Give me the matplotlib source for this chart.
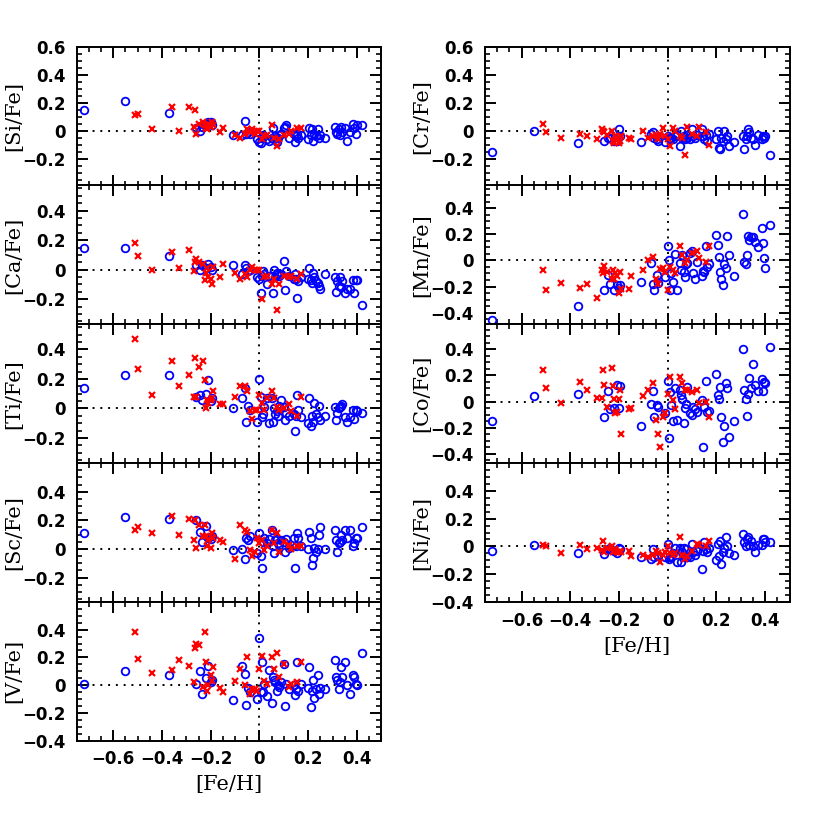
import numpy as np
import matplotlib
matplotlib.use('Agg')
import matplotlib.pyplot as plt
from matplotlib.ticker import MultipleLocator, FuncFormatter

# [Fe/H] of the two samples (same stars in every panel)
feh_blue = [-0.72, -0.55, -0.37,
            -0.26, -0.245, -0.235, -0.22, -0.21, -0.20, -0.195,
            -0.11, -0.07, -0.06, -0.055, -0.045, -0.04, -0.01, 0.0,
            0.005, 0.01, 0.015, 0.02, 0.03, 0.04, 0.05, 0.055, 0.06, 0.065, 0.07, 0.075,
            0.08, 0.09, 0.10, 0.105, 0.11, 0.12, 0.14, 0.145, 0.15, 0.155, 0.16, 0.17,
            0.20, 0.205, 0.21, 0.215, 0.22, 0.225, 0.23, 0.24, 0.245, 0.25, 0.27,
            0.31, 0.315, 0.32, 0.325, 0.33, 0.335, 0.34, 0.35, 0.36, 0.37, 0.385, 0.39, 0.395, 0.40, 0.42]
feh_red = [-0.51, -0.50, -0.44, -0.36, -0.33, -0.29, -0.27, -0.265, -0.26, -0.25,
           -0.23, -0.225, -0.22, -0.215, -0.21, -0.20, -0.195, -0.19, -0.16, -0.15,
           -0.10, -0.08, -0.06, -0.05, -0.04, -0.03, -0.02, -0.01, 0.0, 0.01,
           0.02, 0.03, 0.05, 0.06, 0.07, 0.08, 0.10, 0.12, 0.13, 0.155, 0.17]

si_blue = [0.15, 0.21, 0.13,
           0.02, 0.00, 0.03, 0.05, 0.06, 0.06, 0.04,
           -0.03, -0.03, 0.07, -0.02, -0.01, -0.02, -0.06, -0.08,
           -0.09, -0.05, -0.03, -0.04, -0.06, -0.07, -0.05, 0.02, -0.06, -0.04, -0.08, -0.05,
           -0.03, -0.02, 0.02, 0.03, 0.04, -0.05, -0.02, -0.08, -0.04, -0.02, -0.05, -0.03,
           -0.06, 0.02, -0.03, 0.01, -0.07, -0.02, -0.04, 0.01, -0.05, -0.03, -0.05,
           0.03, -0.01, -0.02, 0.01, -0.03, 0.03, -0.01, 0.02, -0.07, -0.01, 0.05, 0.02, -0.02, 0.04, 0.04]
ca_blue = [0.15, 0.15, 0.09,
           0.03, 0.00, 0.03, 0.01, 0.04, 0.02, 0.00,
           0.03, -0.03, 0.03, 0.01, -0.01, 0.00, -0.05, -0.06,
           -0.16, -0.04, -0.01, -0.03, -0.10, -0.04, -0.04, -0.16, 0.00, -0.05, -0.02, -0.03,
           -0.04, -0.03, 0.06, -0.14, -0.01, -0.04, -0.06, -0.03, -0.06, -0.19, -0.08, -0.05,
           -0.06, 0.01, -0.07, -0.09, -0.02, -0.05, -0.08, -0.09, -0.11, -0.13, -0.03,
           -0.05, -0.15, -0.08, -0.11, -0.05, -0.12, -0.08, -0.16, -0.13, -0.13, -0.07, -0.16, -0.07, -0.07, -0.24]
ti_blue = [0.14, 0.23, 0.23,
           0.08, 0.09, 0.06, 0.10, 0.19, 0.05, 0.07,
           0.00, 0.07, 0.14, -0.09, 0.02, -0.01, -0.09, 0.20,
           0.08, -0.06, -0.04, 0.01, 0.07, -0.10, 0.07, -0.09, 0.00, -0.04, -0.02, -0.05,
           0.02, 0.06, 0.01, -0.08, -0.03, -0.05, -0.04, -0.15, -0.05, 0.09, -0.01, -0.06,
           -0.10, 0.07, -0.12, -0.05, -0.09, 0.04, -0.04, -0.06, 0.02, -0.08, -0.05,
           0.01, -0.08, -0.03, 0.00, 0.01, 0.02, 0.03, -0.06, -0.09, -0.06, -0.01, -0.07, -0.01, -0.02, -0.03]
sc_blue = [0.11, 0.22, 0.21,
           0.20, 0.12, 0.05, 0.16, 0.08, 0.07, 0.09,
           -0.01, 0.00, -0.07, 0.08, 0.06, 0.09, -0.03, 0.11,
           -0.05, -0.13, 0.05, 0.08, 0.04, 0.07, 0.13, 0.02, -0.03, 0.06, 0.07, 0.04,
           0.03, 0.06, 0.05, -0.02, 0.07, 0.01, 0.08, -0.13, 0.02, 0.11, 0.08, 0.02,
           0.00, 0.12, 0.08, -0.11, -0.06, 0.01, -0.02, 0.00, 0.10, 0.15, 0.00,
           0.13, 0.06, -0.02, 0.04, 0.05, 0.10, 0.06, 0.13, 0.08, 0.13, 0.02, 0.04, 0.08, 0.08, 0.15]
v_blue = [0.01, 0.10, 0.07,
          0.01, 0.10, -0.06, 0.05, 0.14, 0.02, 0.04,
          -0.11, 0.14, 0.08, -0.14, -0.02, -0.05, -0.10, 0.34,
          -0.05, 0.17, -0.05, 0.01, -0.08, 0.11, -0.13, 0.06, 0.04, 0.02, -0.04, 0.00,
          -0.01, 0.02, 0.15, -0.15, 0.01, -0.03, 0.00, -0.07, -0.03, 0.17, -0.04, 0.01,
          -0.02, 0.13, -0.16, -0.04, 0.04, -0.09, -0.03, 0.07, -0.06, -0.02, -0.03,
          0.18, 0.06, 0.04, -0.03, 0.02, 0.13, 0.06, 0.17, 0.00, -0.06, 0.07, 0.06, 0.01, 0.00, 0.23]
cr_blue = [-0.15, 0.00, -0.09,
           -0.07, -0.05, -0.05, -0.07, -0.07, 0.01, -0.04,
           -0.08, -0.02, -0.01, -0.05, -0.06, -0.07, -0.08, -0.04,
           -0.05, -0.06, -0.05, -0.06, -0.04, -0.03, -0.11, 0.00, -0.05, -0.04, -0.06, -0.03,
           -0.05, -0.06, 0.01, -0.04, -0.05, -0.03, 0.01, -0.04, -0.06, -0.03, -0.07, -0.02,
           -0.06, 0.00, -0.12, -0.13, -0.05, -0.07, 0.00, -0.06, -0.04, -0.11, -0.08,
           -0.04, -0.13, -0.06, -0.04, 0.01, -0.01, -0.05, -0.06, -0.10, -0.03, -0.06, -0.04, -0.05, -0.04, -0.17]
mn_blue = [-0.46, np.nan, -0.35,
           -0.23, -0.11, -0.18, -0.23, -0.19, -0.21, -0.19,
           -0.165, -0.02, -0.18, -0.23, -0.11, -0.17, -0.125, 0.11,
           0.005, -0.23, -0.10, -0.165, 0.05, -0.23, -0.02, -0.07, 0.04, -0.09, -0.13, -0.03,
           -0.02, 0.06, 0.07, -0.10, -0.14, -0.01, -0.12, -0.08, -0.09, 0.11, -0.05, -0.03,
           0.195, 0.12, 0.03, -0.085, -0.14, -0.19, -0.03, -0.06, 0.19, 0.04, -0.12,
           0.36, -0.01, -0.03, 0.04, 0.19, 0.16, 0.18, 0.18, 0.14, 0.10, 0.25, 0.13, 0.02, -0.06, 0.27]
co_blue = [-0.15, 0.04, 0.06,
           -0.12, 0.08, -0.06, -0.05, 0.13, -0.05, 0.12,
           -0.19, -0.02, 0.08, -0.12, -0.03, -0.04, -0.09, 0.16,
           -0.28, 0.07, -0.03, -0.15, 0.10, -0.14, 0.09, 0.05, 0.02, -0.16, -0.05, -0.02,
           0.11, -0.09, -0.10, -0.04, -0.06, -0.08, 0.01, -0.35, -0.04, 0.16, -0.08, -0.07,
           0.21, 0.05, 0.02, 0.11, -0.115, -0.31, -0.185, 0.14, 0.10, -0.27, -0.15,
           0.40, 0.09, 0.02, -0.11, 0.06, 0.18, 0.10, 0.29, 0.13, 0.08, 0.17, 0.08, 0.15, 0.14, 0.42]
ni_blue = [-0.03, 0.01, -0.05,
           -0.055, -0.02, -0.01, -0.03, -0.05, -0.01, -0.02,
           -0.075, -0.09, -0.02, -0.08, -0.06, -0.07, -0.08, 0.02,
           -0.09, -0.08, -0.07, -0.05, -0.01, -0.115, -0.01, -0.11, -0.04, -0.01, -0.08, -0.02,
           -0.08, -0.08, 0.02, -0.04, -0.06, -0.03, -0.16, -0.03, 0.03, -0.02, -0.04, -0.01,
           -0.10, 0.02, -0.07, 0.04, -0.125, -0.04, -0.01, 0.07, 0.00, -0.05, -0.06,
           0.09, 0.03, 0.00, 0.05, 0.065, 0.01, 0.04, 0.00, -0.04, 0.01, 0.01, 0.05, 0.05, 0.03, 0.03]

si_red = [0.11, 0.12, 0.01, 0.17, 0.00, 0.17, 0.03, 0.15, -0.02, 0.05,
          0.06, 0.04, 0.02, 0.01, 0.05, 0.03, 0.06, 0.04, -0.01, 0.02,
          -0.03, -0.05, -0.02, 0.01, -0.01, 0.01, -0.02, 0.00, 0.00, -0.06,
          -0.04, -0.03, 0.04, -0.05, -0.11, -0.06, -0.03, -0.02, 0.00, 0.02, 0.02]
ca_red = [0.18, 0.09, 0.00, 0.12, 0.01, 0.13, -0.01, 0.05, 0.07, 0.05,
          0.04, -0.07, -0.02, 0.01, -0.05, -0.06, -0.10, 0.02, -0.05, 0.04,
          -0.02, -0.06, -0.03, -0.05, 0.00, 0.02, 0.00, 0.00, 0.00, -0.20,
          -0.05, -0.04, -0.10, -0.06, -0.27, -0.10, -0.04, -0.05, -0.04, -0.06, -0.03]
ti_red = [0.47, 0.27, 0.09, 0.32, 0.15, 0.23, 0.08, 0.34, 0.08, 0.28,
          0.32, 0.19, 0.00, 0.06, 0.04, 0.06, 0.07, 0.12, 0.03, 0.03,
          0.08, 0.15, 0.15, 0.12, -0.02, -0.07, -0.01, -0.01, 0.09, 0.04,
          -0.01, 0.07, 0.12, 0.07, 0.01, -0.01, 0.00, 0.03, -0.02, -0.05, 0.08]
sc_red = [0.13, 0.15, 0.11, 0.23, 0.10, 0.21, 0.06, 0.20, 0.01, 0.17,
          0.09, 0.17, 0.09, 0.02, 0.06, 0.01, 0.11, 0.08, 0.06, 0.05,
          -0.07, 0.17, 0.13, 0.12, -0.01, -0.05, -0.02, 0.08, 0.04, 0.06,
          -0.01, 0.02, 0.13, 0.04, 0.11, -0.02, 0.05, 0.03, 0.00, 0.02, 0.02]
v_red = [0.38, 0.19, 0.09, 0.11, 0.18, 0.14, 0.02, 0.27, 0.30, 0.29,
         -0.01, 0.38, 0.17, -0.04, 0.00, 0.07, 0.03, 0.13, -0.02, -0.05,
         0.03, 0.12, 0.00, 0.20, -0.06, -0.03, -0.03, -0.04, 0.12, 0.21,
         0.03, 0.01, 0.20, 0.12, 0.23, 0.06, 0.15, -0.01, 0.01, 0.02, 0.17]
cr_red = [0.05, -0.01, -0.05, -0.02, -0.04, -0.06, 0.01, 0.00, -0.01, -0.03,
          0.00, -0.07, -0.09, -0.04, -0.05, -0.09, -0.07, -0.04, -0.05, -0.06,
          0.00, -0.05, -0.04, -0.03, -0.06, -0.02, 0.02, -0.04, -0.06, -0.11,
          0.02, 0.00, -0.04, -0.05, -0.17, 0.03, -0.02, -0.04, 0.03, -0.01, -0.10]
mn_red = [-0.07, -0.23, -0.17, -0.21, -0.18, -0.29, -0.07, -0.10, -0.04, -0.09,
          -0.14, -0.07, -0.14, -0.10, -0.12, -0.25, -0.085, -0.22, -0.22, -0.12,
          -0.07, 0.00, 0.03, -0.14, -0.18, -0.065, -0.06, -0.09, -0.23, -0.05,
          -0.07, -0.10, 0.11, 0.04, -0.02, 0.00, 0.06, 0.07, 0.02, -0.01, 0.11]
co_red = [0.24, 0.10, -0.01, 0.15, 0.09, 0.03, 0.03, 0.24, 0.13, -0.04,
          0.26, 0.12, 0.02, -0.09, -0.08, 0.02, 0.09, -0.25, -0.06, -0.05,
          0.04, 0.09, 0.14, -0.14, -0.25, -0.35, -0.12, -0.09, 0.06, 0.19,
          0.01, -0.06, 0.19, 0.14, 0.09, 0.09, 0.07, 0.09, -0.01, 0.00, -0.115]
ni_red = [0.01, 0.00, -0.05, 0.01, -0.02, -0.01, -0.025, 0.04, -0.04, -0.01,
          0.00, -0.04, -0.03, -0.02, -0.04, -0.04, -0.03, -0.04, -0.03, -0.07,
          -0.06, -0.08, -0.06, -0.03, -0.05, -0.11, -0.06, -0.04, 0.00, -0.05,
          -0.06, -0.05, 0.07, -0.06, -0.09, -0.07, -0.03, 0.02, 0.01, 0.00, 0.04]

left_panels = [('[Si/Fe]', si_blue, si_red, (-0.39, 0.6)),
               ('[Ca/Fe]', ca_blue, ca_red, (-0.37, 0.57)),
               ('[Ti/Fe]', ti_blue, ti_red, (-0.37, 0.57)),
               ('[Sc/Fe]', sc_blue, sc_red, (-0.37, 0.6)),
               ('[V/Fe]', v_blue, v_red, (-0.4, 0.6))]
right_panels = [('[Cr/Fe]', cr_blue, cr_red, (-0.39, 0.6)),
                ('[Mn/Fe]', mn_blue, mn_red, (-0.49, 0.575)),
                ('[Co/Fe]', co_blue, co_red, (-0.47, 0.59)),
                ('[Ni/Fe]', ni_blue, ni_red, (-0.4, 0.6))]

plt.rcParams['font.family'] = 'DejaVu Sans'
plt.rcParams['font.weight'] = 'bold'
plt.rcParams['font.size'] = 12
plt.rcParams['axes.linewidth'] = 1.4


def fmt(v, pos=None):
    if abs(v) < 1e-6:
        return '0'
    return ('%.1f' % v).replace('-', '\u2212')


def draw_panel(ax, name, yb, yr, ylim, top, bottom):
    ax.set_xlim(-0.75, 0.5)
    ax.set_ylim(*ylim)
    ax.axhline(0, color='black', lw=1.4, ls=(0, (1, 3)), zorder=1)
    ax.axvline(0, color='black', lw=1.4, ls=(0, (1, 3)), zorder=1)
    ax.plot(feh_blue, yb, 'o', mfc='none', mec='blue', ms=5.5, mew=1.3, zorder=2)
    ax.plot(feh_red, yr, 'x', color='red', ms=4.5, mew=1.6, zorder=3)

    ax.xaxis.set_major_locator(MultipleLocator(0.2))
    ax.xaxis.set_minor_locator(MultipleLocator(0.05))
    ax.xaxis.set_major_formatter(FuncFormatter(fmt))
    yt = [t for t in np.arange(-0.4, 0.61, 0.2) if ylim[0] - 1e-3 <= t <= ylim[1] + 1e-3]
    ax.set_yticks(yt)
    ax.set_yticklabels([fmt(t) if (t < 0.59 or top) else '' for t in yt])
    ax.yaxis.set_minor_locator(MultipleLocator(0.05))

    ax.tick_params(which='both', direction='in', top=True, right=True)
    ax.tick_params(which='major', length=7.7, width=1.4)
    ax.tick_params(which='minor', length=3.6, width=1.2)
    ax.tick_params(axis='y', pad=8)
    ax.tick_params(axis='x', pad=7, labelbottom=bottom)

    ax.set_ylabel(name, family='DejaVu Serif', weight='normal', size=15)
    ax.yaxis.set_label_coords(-0.176, 0.5)
    if bottom:
        ax.set_xlabel('[Fe/H]', family='DejaVu Serif', weight='normal', size=15, labelpad=5)


fig = plt.figure(figsize=(8.3, 8.3), dpi=100)
top_y = 1 - 46.7 / 830
h = 138.8 / 830
w = 0.367
for col_left, panels in [(0.0924, left_panels), (0.5843, right_panels)]:
    n = len(panels)
    for i, (name, yb, yr, ylim) in enumerate(panels):
        ax = fig.add_axes([col_left, top_y - (i + 1) * h, w, h])
        draw_panel(ax, name, yb, yr, ylim, i == 0, i == n - 1)

fig.savefig('out.png', dpi=100)
